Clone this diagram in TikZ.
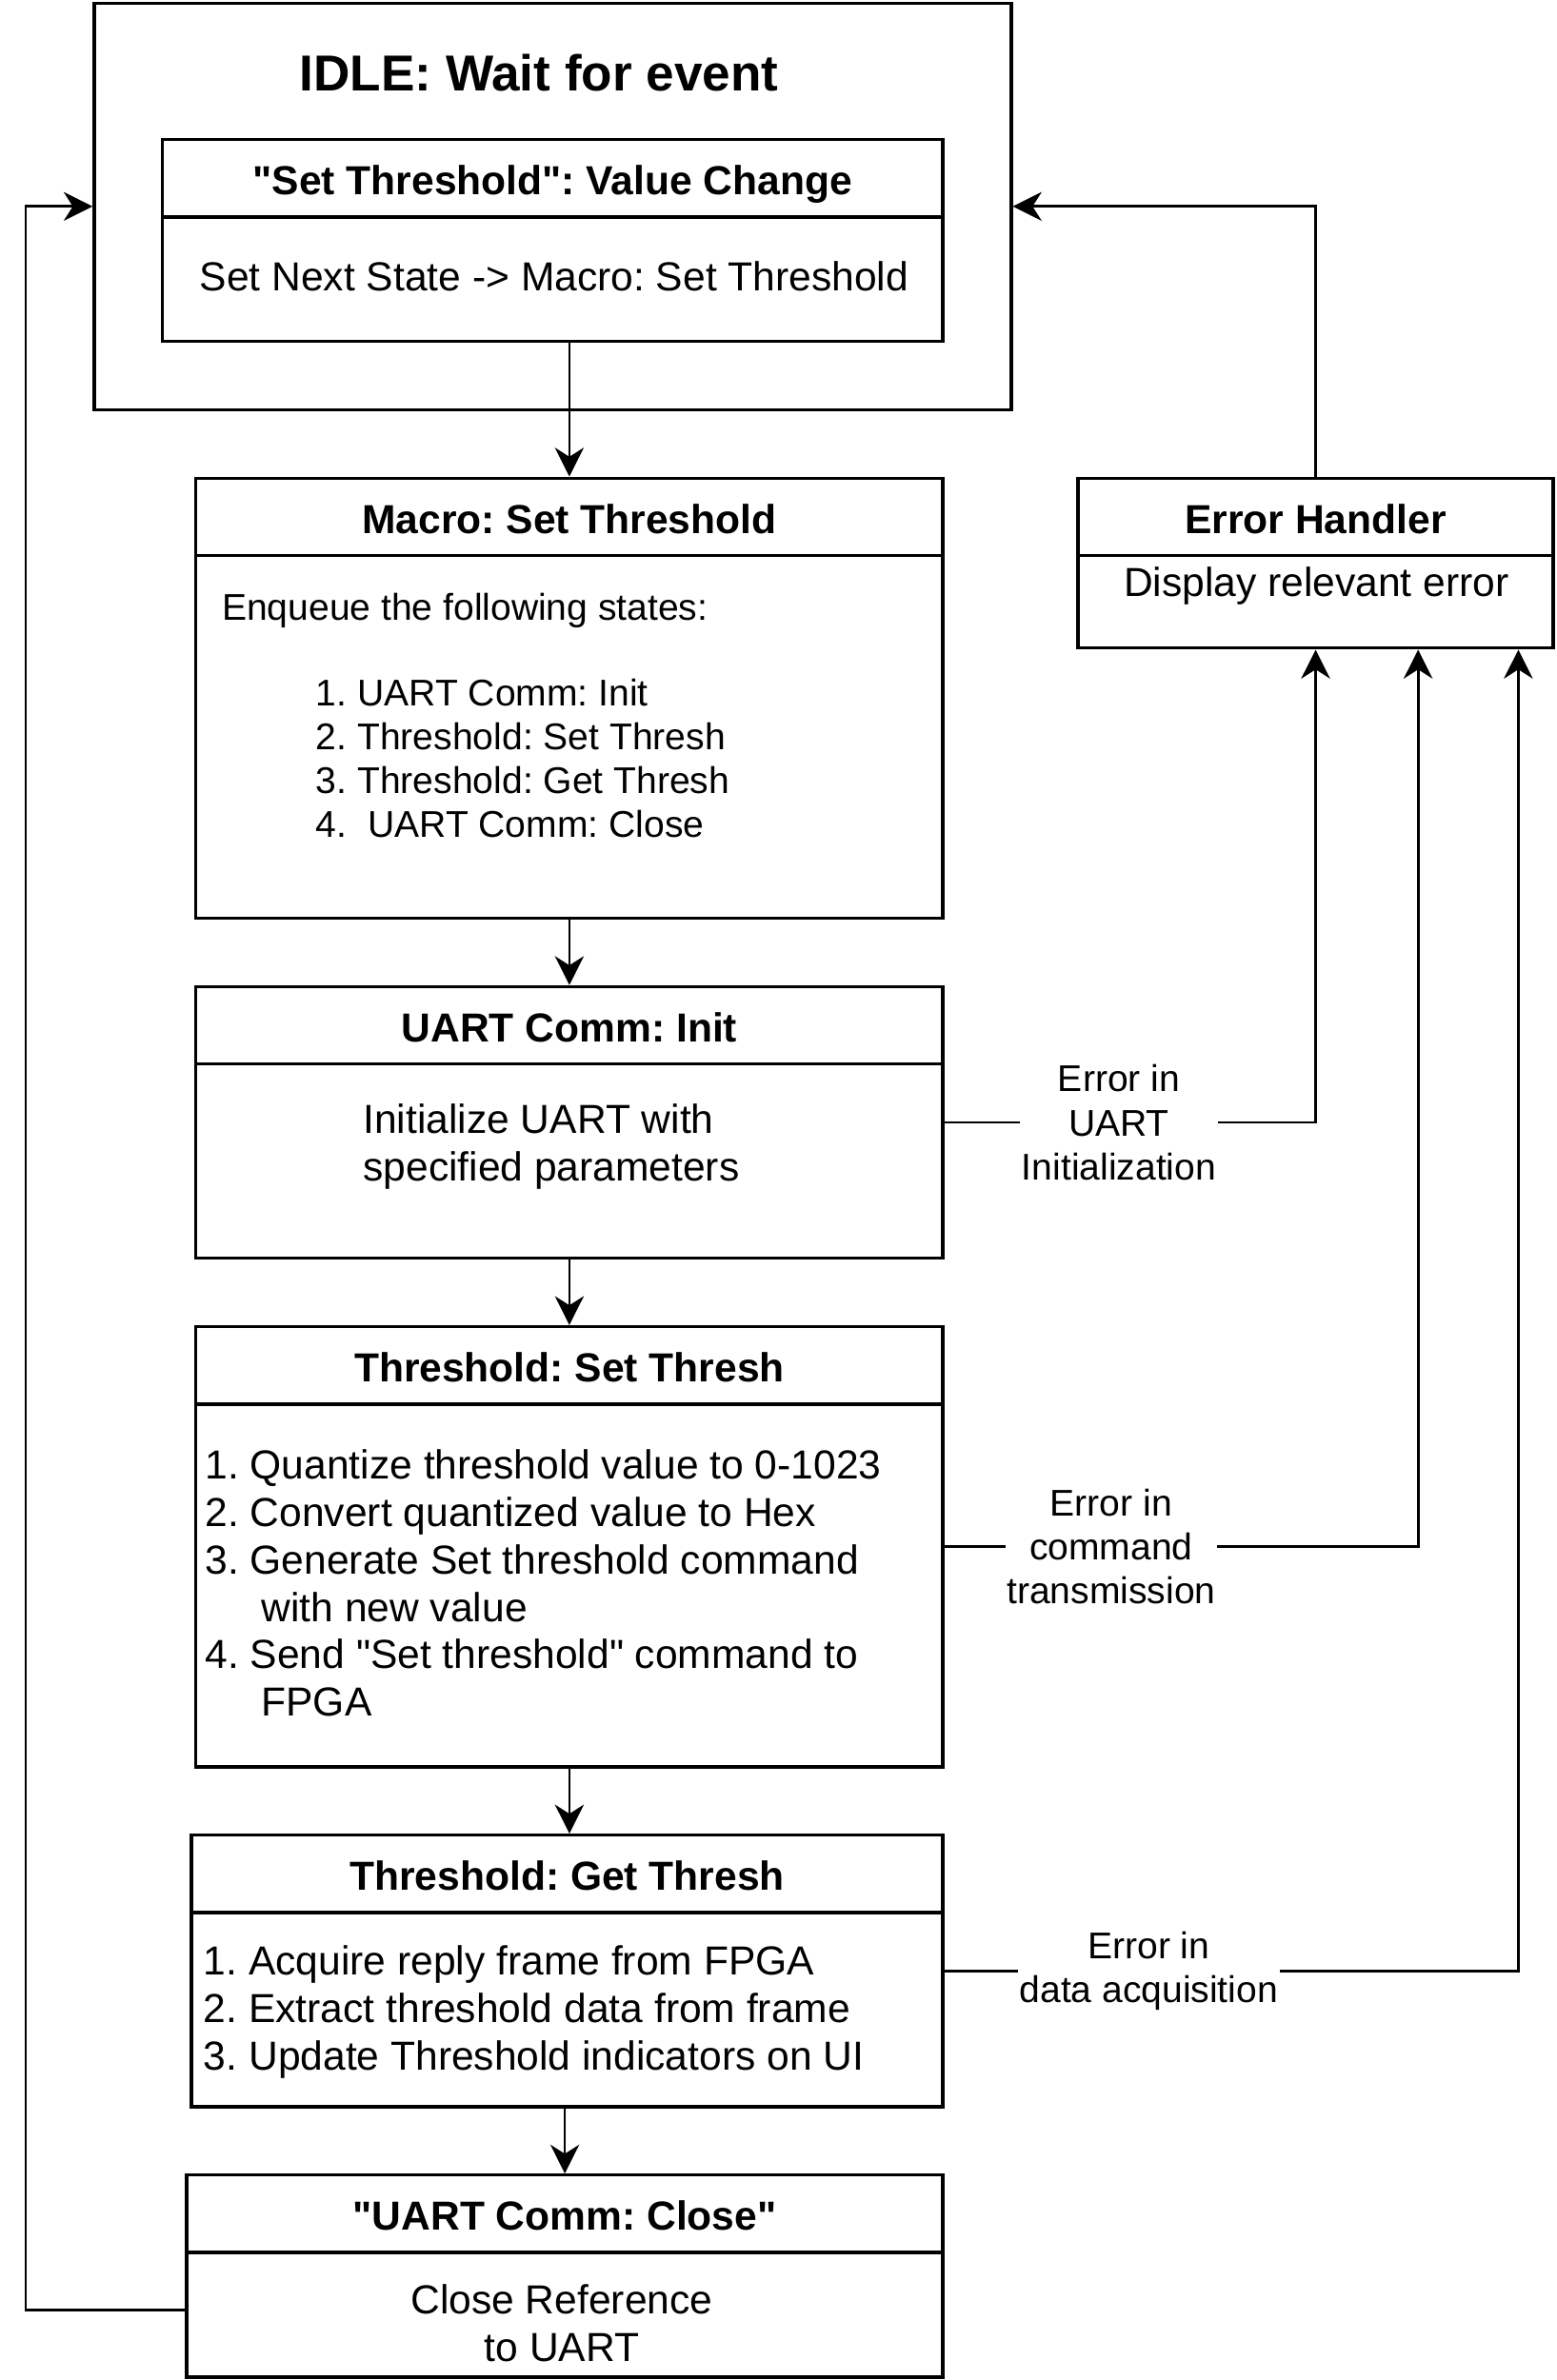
\documentclass[tikz,border=0pt]{standalone}
\usepackage{fontspec}
\setmainfont{Liberation Sans}
\usetikzlibrary{arrows.meta}

\begin{document}
\frenchspacing
\begin{tikzpicture}[x=1pt, y=-1pt,
  box/.style={draw, line width=2.1pt, inner sep=0pt},
  head/.style={draw, line width=2.1pt, minimum height=51pt, anchor=north, inner sep=0pt, text height=22pt, text depth=0pt, font=\bfseries\fontsize{26.7}{32}\selectfont},
  txt/.style={align=left, inner sep=0pt, font=\fontsize{26.7}{31.2}\selectfont},
  small/.style={align=left, inner sep=0pt, font=\fontsize{24.5}{29}\selectfont},
  err/.style={fill=white, align=center, inner sep=1pt, font=\fontsize{24.5}{29}\selectfont},
  arr/.style={-{Stealth[length=19pt, width=19pt, inset=6pt]}, line width=1.7pt}]

\useasboundingbox (0,0) rectangle (1025,1568);

% idle state
\node [box, minimum width=604pt, minimum height=268pt] (idle) at (364,136) {};
\node [font=\bfseries\fontsize{33.3}{40}\selectfont] (idleT) at (355,48) {IDLE: Wait for event};
\node [box, minimum width=514pt, minimum height=133pt] (value) at (364,158.5) {};
\node [head, minimum width=514pt] (valueT) at (value.north) {\textquotedbl Set Threshold\textquotedbl: Value Change};
\node [txt] (valueB) at (365,182) {Set Next State -> Macro: Set Threshold};

% macro
\node [box, minimum width=492pt, minimum height=290pt] (macro) at (375,460) {};
\node [head, minimum width=492pt] (macroT) at (macro.north) {Macro: Set Threshold};
\node [small, anchor=west] (macroB) at (146,402.5) {Enqueue the following states:};
\node [small, anchor=west] (macroL) at (208,499.5) {1. UART Comm: Init\\2. Threshold: Set Thresh\\3. Threshold: Get Thresh\\4.\ \ UART Comm: Close};

% uart init
\node [box, minimum width=492pt, minimum height=179pt] (uart) at (375,739.5) {};
\node [head, minimum width=492pt] (uartT) at (uart.north) {UART Comm: Init};
\node [txt, anchor=west] (uartB) at (239,755.5) {Initialize UART with\\specified parameters};

% set thresh
\node [box, minimum width=492pt, minimum height=290pt] (setth) at (375,1019) {};
\node [head, minimum width=492pt] (setthT) at (setth.north) {Threshold: Set Thresh};
\node [txt, anchor=west] (setthB) at (135,1043) {1. Quantize threshold value to 0-1023\\2. Convert quantized value to Hex\\3. Generate Set threshold command\\\hspace*{37pt}with new value\\4. Send \textquotedbl Set threshold\textquotedbl\ command to\\\hspace*{37pt}FPGA};

% get thresh
\node [box, minimum width=495pt, minimum height=179pt] (getth) at (373.5,1298.5) {};
\node [head, minimum width=495pt] (getthT) at (getth.north) {Threshold: Get Thresh};
\node [txt, anchor=west] (getthB) at (134,1325.5) {1. Acquire reply frame from FPGA\\2. Extract threshold data from frame\\3. Update Threshold indicators on UI};

% close
\node [box, minimum width=498pt, minimum height=133pt] (close) at (372,1499.5) {};
\node [head, minimum width=498pt] (closeT) at (close.north) {\textquotedbl UART Comm: Close\textquotedbl};
\node [txt, align=center] (closeB) at (370,1530.5) {Close Reference\\to UART};

% error handler
\node [box, minimum width=313pt, minimum height=112pt] (handler) at (866.5,371) {};
\node [head, minimum width=313pt] (handlerT) at (handler.north) {Error Handler};
\node [txt] (handlerB) at (867,386) {Display relevant error};

\draw [arr] (value.south -| macro.north) -- (macro.north);
\draw [arr] (macro) -- (uart);
\draw [arr] (uart) -- (setth);
\draw [arr] (setth.south) -- (setth.south |- getth.north);
\draw [arr] (getth.south -| close.north) -- (close.north);

\draw [arr] (uart.east) -| (handler.south) node [err, pos=0.235] {Error in\\UART\\Initialization};
\draw [arr] (setth.east) -| ([xshift=67.5pt]handler.south) node [err, pos=0.176] {Error in\\command\\transmission};
\draw [arr] (getth.east) -| ([xshift=133.5pt]handler.south) node [err, pos=0.178] {Error in\\data acquisition};

\draw [arr] (handler.north) |- (idle.east);
\draw [arr] ([yshift=-22.5pt]close.west) -- ++(-105,0) |- (idle.west);

\end{tikzpicture}
\end{document}
